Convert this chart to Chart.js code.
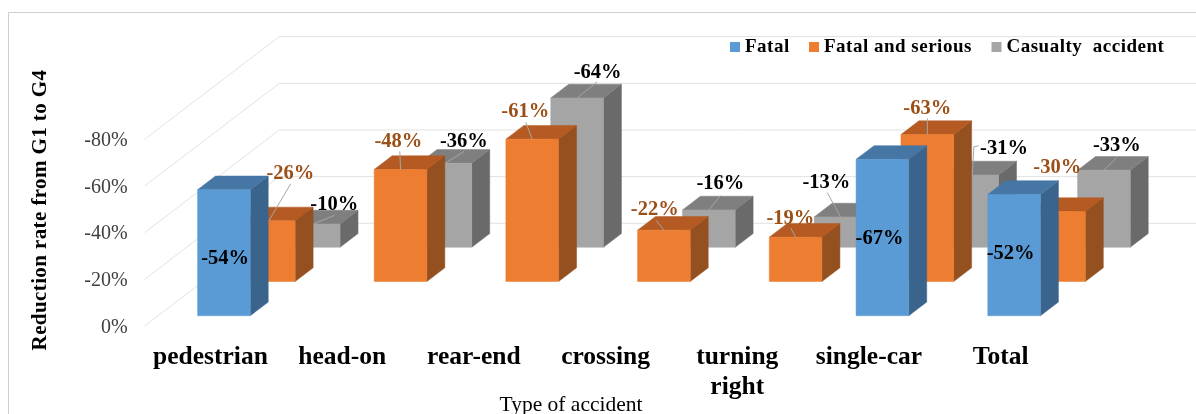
<!DOCTYPE html>
<html>
<head>
<meta charset="utf-8">
<title>Reduction rate by type of accident</title>
<script src="https://cdn.jsdelivr.net/npm/chart.js@4"></script>
<style>
  html, body { margin: 0; padding: 0; background: #fff; }
  canvas { display: block; }
</style>
</head>
<body>
<canvas id="chart1" width="1196" height="414"></canvas>
<script>
const categories = ["pedestrian", "head-on", "rear-end", "crossing", ["turning", "right"], "single-car", "Total"];
const fatal = [-54, null, null, null, null, -67, -52];
const fatalSerious = [-26, -48, -61, -22, -19, -63, -30];
const casualty = [-10, -36, -64, -16, -13, -31, -33];
const seriesNames = ["Fatal", "Fatal and serious", "Casualty  accident"];
const yTicks = [0, -20, -40, -60, -80];
const yTitle = "Reduction rate from G1 to G4";
const xTitle = "Type of accident";

// colours per series: front, top, side, label
const faces = [
  { front: "#5B9BD5", top: "#4676A3", side: "#3A648C", text: "#000000" },
  { front: "#ED7D31", top: "#B55A22", side: "#955020", text: "#9C5018" },
  { front: "#A5A5A5", top: "#7F7F7F", side: "#6A6A6A", text: "#000000" },
];

// oblique projection of the 3d chart, one depth unit = one series row
const depthX = 44.9;
const depthY = 34.23;
const rowGap = 0.3;
const barDepth = 0.4;
const serif = "'Liberation Serif', 'Times New Roman', serif";

// label placement relative to the top middle of each bar: dx, dy and leader points
const placement = [
  [[0.7, 67.7], null, null, null, null, [-3.4, 77.7], [-4, 58.3]],
  [
    [21, -48.3, [[21.9, -37]]],
    [-2.7, -29.7, [[-0.7, -18]]],
    [-7.5, -29, [[-6.5, -17]]],
    [-9.7, -22.4, [[-8, -10]]],
    [-5.8, -20, [[-4.8, -9]]],
    [-0.6, -27.6, [[0.1, -16]]],
    [-2.3, -45],
  ],
  [
    [20, -20.6, [[20.7, -8.6]]],
    [18, -23.4, [[18.5, -11.7]]],
    [20, -27, [[20, -16]]],
    [11, -27.3, [[11.6, -14.3]]],
    [-14.6, -36, [[-13.3, -24.4]]],
    [31.3, -27.3, [[1.7, -28.3], [6.3, -29]]],
    [12.5, -25.7, [[13.3, -13.3]]],
  ],
];

const topMiddle = function (bar, row) {
  const z = row + rowGap;
  return { x: bar.x + z * depthX, y: bar.y - z * depthY };
};

const fillFace = function (ctx, color, points) {
  ctx.fillStyle = color;
  ctx.strokeStyle = color;
  ctx.lineWidth = 0.5;
  ctx.beginPath();
  points.forEach((p, i) => (i === 0 ? ctx.moveTo(p[0], p[1]) : ctx.lineTo(p[0], p[1])));
  ctx.closePath();
  ctx.fill();
  ctx.stroke();
};

const drawBox = function (ctx, bar, row, colors) {
  const z = row + rowGap;
  const left = bar.x - bar.width / 2 + z * depthX;
  const right = left + bar.width;
  const top = bar.y - z * depthY;
  const bottom = bar.base - z * depthY;
  const sx = barDepth * depthX;
  const sy = barDepth * depthY;

  fillFace(ctx, colors.side, [[right, top], [right + sx, top - sy], [right + sx, bottom - sy], [right, bottom]]);
  fillFace(ctx, colors.top, [[left, top], [left + sx, top - sy], [right + sx, top - sy], [right, top]]);
  fillFace(ctx, colors.front, [[left, top], [right, top], [right, bottom], [left, bottom]]);
};

const chart3d = {
  id: "chart3d",
  beforeDatasetsDraw(chart) {
    const { ctx, scales, chartArea } = chart;
    ctx.save();
    ctx.strokeStyle = "#E2E2E2";
    ctx.lineWidth = 1;
    scales.y.ticks.forEach((t) => {
      const y = scales.y.getPixelForValue(t.value);
      const bx = chartArea.left + 3 * depthX;
      const by = y - 3 * depthY;
      ctx.beginPath();
      ctx.moveTo(chartArea.left, y);
      ctx.lineTo(bx, by);
      ctx.lineTo(chart.width, by);
      ctx.stroke();
    });
    ctx.restore();
  },
  beforeDatasetDraw(chart, args) {
    const { ctx } = chart;
    const meta = chart.getDatasetMeta(args.index);
    const values = chart.data.datasets[args.index].data;
    ctx.save();
    meta.data.forEach((bar, i) => {
      if (values[i] !== null) {
        drawBox(ctx, bar, args.index, faces[args.index]);
      }
    });
    ctx.restore();
    return false;
  },
  afterDatasetsDraw(chart) {
    const { ctx } = chart;
    ctx.save();
    ctx.textAlign = "center";
    ctx.textBaseline = "middle";
    chart.data.datasets.forEach((ds, row) => {
      const meta = chart.getDatasetMeta(row);
      ds.data.forEach((v, i) => {
        if (v === null) {
          return;
        }
        const a = topMiddle(meta.data[i], row);
        const p = placement[row][i];
        if (p[2]) {
          ctx.strokeStyle = "#A6A6A6";
          ctx.lineWidth = 1;
          ctx.beginPath();
          ctx.moveTo(a.x, a.y);
          p[2].forEach((q) => ctx.lineTo(a.x + q[0], a.y + q[1]));
          ctx.stroke();
        }
        ctx.fillStyle = faces[row].text;
        ctx.font = "bold 20.5px " + serif;
        ctx.fillText(v + "%", a.x + p[0] + 0.5, a.y + p[1] + 1.5);
      });
    });
    ctx.restore();
  },
  afterDraw(chart) {
    const { ctx } = chart;
    ctx.save();

    // frame, only top and left are inside the picture
    ctx.strokeStyle = "#CFCFCF";
    ctx.lineWidth = 1;
    ctx.beginPath();
    ctx.moveTo(8.5, chart.height);
    ctx.lineTo(8.5, 12.5);
    ctx.lineTo(chart.width, 12.5);
    ctx.stroke();

    // legend
    const legendX = [730, 809, 991.5];
    ctx.textAlign = "left";
    ctx.textBaseline = "middle";
    ctx.font = "bold 19px " + serif;
    ctx.letterSpacing = "0.5px";
    seriesNames.forEach((name, i) => {
      ctx.fillStyle = faces[i].front;
      ctx.fillRect(legendX[i], 42, 10, 10);
      ctx.fillStyle = "#000000";
      ctx.fillText(name, legendX[i] + 15, 47.5);
    });
    ctx.letterSpacing = "0px";

    // axis titles
    ctx.textAlign = "center";
    ctx.fillStyle = "#000000";
    ctx.font = "21.5px " + serif;
    ctx.fillText(xTitle, 571, 405);

    ctx.translate(41, 210);
    ctx.rotate(-Math.PI / 2);
    ctx.font = "bold 21px " + serif;
    ctx.letterSpacing = "0.4px";
    ctx.fillText(yTitle, 0, 0);
    ctx.restore();
  },
};

const start = function () {
  new Chart(document.getElementById("chart1"), {
    type: "bar",
    plugins: [chart3d],
    data: {
      labels: categories,
      datasets: [
        { label: seriesNames[0], data: fatal, backgroundColor: faces[0].front },
        { label: seriesNames[1], data: fatalSerious, backgroundColor: faces[1].front },
        { label: seriesNames[2], data: casualty, backgroundColor: faces[2].front },
      ],
    },
    options: {
      responsive: false,
      animation: false,
      layout: { padding: { top: 139.3, right: 129.5 } },
      plugins: { legend: { display: false }, tooltip: { enabled: false } },
      datasets: { bar: { grouped: false, barPercentage: 0.4, categoryPercentage: 1 } },
      scales: {
        x: {
          grid: { display: false, drawTicks: false },
          border: { display: false },
          ticks: {
            color: "#000000",
            autoSkip: false,
            maxRotation: 0,
            padding: 16,
            font: { family: serif, size: 25.5, weight: "bold", lineHeight: 1.18 },
          },
          afterFit: (s) => { s.height = 88; },
        },
        y: {
          reverse: true,
          min: -80,
          max: 0,
          grid: { display: false, drawTicks: false },
          border: { display: false },
          afterBuildTicks: (s) => { s.ticks = yTicks.map((value) => ({ value })); },
          ticks: {
            color: "#404040",
            padding: 17,
            labelOffset: 1.5,
            font: { family: serif, size: 20 },
            callback: (v) => v + "%",
          },
          afterFit: (s) => { s.width = 144.6; },
        },
      },
    },
  });
};

start();
</script>
</body>
</html>
